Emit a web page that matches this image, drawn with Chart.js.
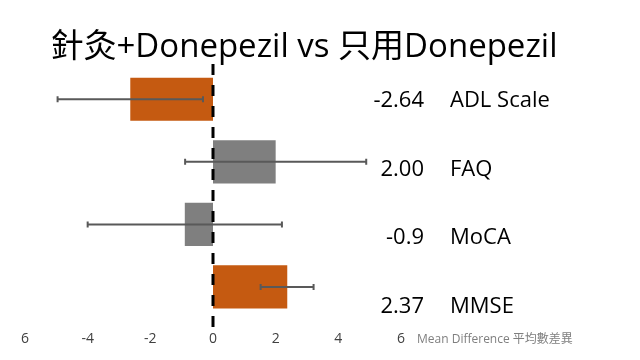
<!DOCTYPE html>
<html>
<head>
<meta charset="utf-8">
<script src="https://cdn.jsdelivr.net/npm/chart.js@4.4.1/dist/chart.umd.min.js"></script>
<style>
    html, body { margin: 0; padding: 0; background: #ffffff; overflow: hidden; }
    #wrap { width: 640px; height: 360px; position: relative; }
</style>
</head>
<body>
<div id="wrap"><canvas id="forestChart"></canvas></div>
<script>
// --- Data ---
const categories = ['ADL Scale', 'FAQ', 'MoCA', 'MMSE'];
const meanDiff = [-2.64, 2.00, -0.9, 2.37];
const valueLabels = ['-2.64', '2.00', '-0.9', '2.37'];
const errLow = [-4.96, -0.89, -4.0, 1.52];
const errHigh = [-0.32, 4.89, 2.2, 3.21];
const xTicks = [-6, -4, -2, 0, 2, 4, 6];
const xTickLabels = ['6', '-4', '-2', '0', '2', '4', '6'];

const titleText = '針灸+Donepezil vs 只用Donepezil';
const axisTitle = 'Mean Difference 平均數差異';

const ORANGE = '#C55A11';
const GRAY = '#7F7F7F';
const barColors = [ORANGE, GRAY, GRAY, ORANGE];

const latin = "'Open Sans', 'Noto Sans CJK TC', sans-serif";

// Error bars, zero line and all side texts
const overlayPlugin = {
    id: 'overlay',
    afterDatasetsDraw(chart) {
        const ctx = chart.ctx;
        const x = chart.scales.x;
        const y = chart.scales.y;
        const area = chart.chartArea;

        // error bars
        ctx.save();
        ctx.strokeStyle = '#595959';
        ctx.lineWidth = 2;
        for (let i = 0; i < categories.length; i++) {
            const yy = y.getPixelForValue(i);
            const x1 = x.getPixelForValue(errLow[i]);
            const x2 = x.getPixelForValue(errHigh[i]);
            ctx.beginPath();
            ctx.moveTo(x1, yy);
            ctx.lineTo(x2, yy);
            ctx.moveTo(x1, yy - 3);
            ctx.lineTo(x1, yy + 3);
            ctx.moveTo(x2, yy - 3);
            ctx.lineTo(x2, yy + 3);
            ctx.stroke();
        }
        ctx.restore();

        // dashed zero line
        const x0 = x.getPixelForValue(0);
        ctx.save();
        ctx.strokeStyle = '#000000';
        ctx.lineWidth = 3;
        ctx.setLineDash([11, 10]);
        ctx.beginPath();
        ctx.moveTo(x0, area.top - 4);
        ctx.lineTo(x0, area.bottom + 11);
        ctx.stroke();
        ctx.restore();

        // value + category labels on the right
        ctx.save();
        ctx.fillStyle = '#000000';
        ctx.font = '22px ' + latin;
        ctx.textBaseline = 'alphabetic';
        for (let i = 0; i < categories.length; i++) {
            const yy = y.getPixelForValue(i) + 8 + i * 5.9;
            ctx.textAlign = 'right';
            ctx.fillText(valueLabels[i], 424, yy);
            ctx.textAlign = 'left';
            ctx.fillText(categories[i], 450, yy);
        }
        ctx.restore();

        // title
        ctx.save();
        ctx.fillStyle = '#000000';
        ctx.font = '33px ' + latin;
        ctx.textAlign = 'center';
        ctx.textBaseline = 'alphabetic';
        ctx.fillText(titleText, 304, 57);
        ctx.restore();

        // axis title
        ctx.save();
        ctx.fillStyle = '#7F7F7F';
        ctx.font = '12px ' + latin;
        ctx.textAlign = 'left';
        ctx.textBaseline = 'middle';
        ctx.fillText(axisTitle, 417, area.bottom + 21);
        ctx.restore();
    }
};

const ctx = document.getElementById('forestChart').getContext('2d');

new Chart(ctx, {
    type: 'bar',
    data: {
        labels: categories,
        datasets: [{
            label: 'Mean Difference',
            data: meanDiff,
            backgroundColor: barColors,
            borderWidth: 0,
            barPercentage: 0.69,
            categoryPercentage: 1.0
        }]
    },
    options: {
        indexAxis: 'y',
        responsive: true,
        maintainAspectRatio: false,
        animation: false,
        layout: {
            padding: { left: 25, right: 239, top: 68, bottom: 1 }
        },
        scales: {
            x: {
                min: -6,
                max: 6,
                afterBuildTicks(scale) {
                    scale.ticks = xTicks.map(v => ({ value: v }));
                },
                ticks: {
                    callback: (value) => xTickLabels[xTicks.indexOf(value)],
                    color: '#404040',
                    font: { family: latin, size: 14 },
                    padding: 12,
                    maxRotation: 0,
                    autoSkip: false
                },
                grid: { display: false, drawTicks: false },
                border: { display: false }
            },
            y: {
                display: false
            }
        },
        plugins: {
            legend: { display: false },
            tooltip: { enabled: false }
        }
    },
    plugins: [overlayPlugin]
});
</script>
</body>
</html>
